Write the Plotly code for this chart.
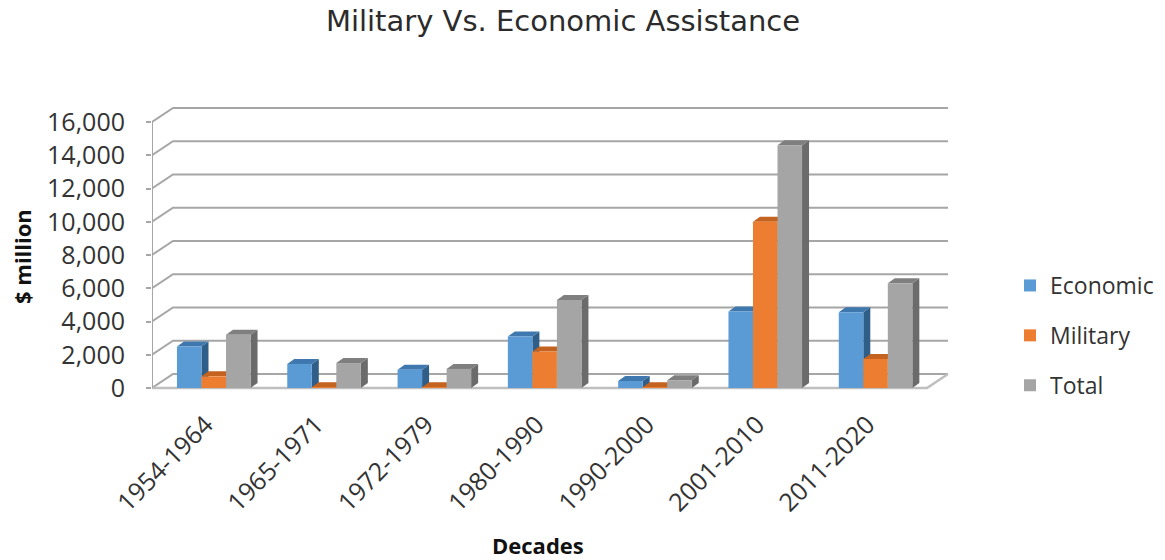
import plotly.graph_objects as go

# ---------------- data ----------------
decades = ["1954-1964", "1965-1971", "1972-1979", "1980-1990",
           "1990-2000", "2001-2010", "2011-2020"]
economic = [2500, 1450, 1100, 3100, 420, 4600, 4550]
military = [700, 50, 50, 2200, 50, 10000, 1750]
total = [3200, 1500, 1150, 5300, 470, 14600, 6300]
y_ticks = [0, 2000, 4000, 6000, 8000, 10000, 12000, 14000, 16000]

series = [
    ("Economic", economic, "#5B9BD5", "#3F78AE", "#2F5E88"),
    ("Military", military, "#ED7D31", "#C4621F", "#A3521A"),
    ("Total", total, "#A5A5A5", "#7F7F7F", "#6B6B6B"),
]

# ---------------- geometry (pixel-based layout) ----------------
W, H = 1165, 560
cat_px = 110.3          # px per category
cat0_px = 213.75        # px of first category centre
px_per_unit = 33.25 / 2000.0
y0_px = 388             # pixel of value 0
plot_l, plot_r, plot_t, plot_b = 152, 952, 100, 393

x_lo = (plot_l - cat0_px) / cat_px
x_hi = (plot_r - cat0_px) / cat_px
y_lo = -(plot_b - y0_px) / px_per_unit
y_hi = (y0_px - plot_t) / px_per_unit

bargap = 0.333
bw = (1 - bargap) / 3.0

# depth of back wall and of bars, in data units
wall_dx = 21 / cat_px
wall_dy = 14 / px_per_unit
bar_dx = 7 / cat_px
bar_dy = 5 / px_per_unit

front_right = (927 - cat0_px) / cat_px
back_right = front_right + wall_dx

grid_col = "#A6A6A6"
shapes = []
# back-wall gridlines (with the diagonal on the left side wall)
for v in y_ticks:
    shapes.append(dict(
        type="path", xref="x", yref="y", layer="below",
        path=f"M{x_lo},{v} L{x_lo + wall_dx},{v + wall_dy} L{back_right},{v + wall_dy}",
        line=dict(color=grid_col, width=2)))
# floor front edge + right edge
shapes.append(dict(
    type="path", xref="x", yref="y", layer="below",
    path=f"M{x_lo},0 L{front_right},0 L{back_right},{wall_dy}",
    line=dict(color="#BFBFBF", width=2.5)))
# front vertical axis line
shapes.append(dict(
    type="line", xref="x", yref="y", layer="below",
    x0=x_lo, x1=x_lo, y0=0, y1=y_ticks[-1],
    line=dict(color=grid_col, width=2)))

# 3-D side and top faces of each bar
for k, (name, vals, front, top, side) in enumerate(series):
    for i, v in enumerate(vals):
        c = i + (k - 1) * bw
        xl, xr = c - bw / 2, c + bw / 2
        shapes.append(dict(
            type="path", xref="x", yref="y", layer="below",
            path=f"M{xr},0 L{xr + bar_dx},{bar_dy} L{xr + bar_dx},{v + bar_dy} L{xr},{v} Z",
            fillcolor=side, line=dict(width=0)))
        shapes.append(dict(
            type="path", xref="x", yref="y", layer="below",
            path=f"M{xl},{v} L{xl + bar_dx},{v + bar_dy} L{xr + bar_dx},{v + bar_dy} L{xr},{v} Z",
            fillcolor=top, line=dict(width=0)))

fig = go.Figure()
for k, (name, vals, front, top, side) in enumerate(series):
    fig.add_trace(go.Bar(
        x=list(range(len(decades))), y=vals, name=name,
        marker=dict(color=front, line=dict(width=0)),
        legendgroup=name))

txt = "#333333"
fig.update_layout(
    width=W, height=H,
    margin=dict(l=plot_l, r=W - plot_r, t=plot_t, b=H - plot_b, autoexpand=False),
    paper_bgcolor="white", plot_bgcolor="rgba(0,0,0,0)",
    barmode="group", bargap=bargap, bargroupgap=0,
    font=dict(family="Open Sans", size=23, color=txt),
    title=dict(text="Military Vs. Economic Assistance",
               x=563 / W, xref="container", xanchor="center",
               y=1 - 21 / H, yref="container", yanchor="middle",
               font=dict(family="DejaVu Sans", size=29, color="#2b2b2b")),
    xaxis=dict(range=[x_lo, x_hi], tickvals=list(range(len(decades))),
               ticktext=decades, tickangle=-45, showgrid=False,
               zeroline=False, showline=False, ticks="",
               ticklabelstandoff=11, ticklabelshift=-8,
               tickfont=dict(family="Open Sans", size=25, color=txt)),
    yaxis=dict(range=[y_lo, y_hi], tickvals=y_ticks, tickformat=",",
               showgrid=False, zeroline=False, showline=False,
               ticks="outside", ticklen=5, tickcolor=grid_col, tickwidth=2,
               ticklabelstandoff=16,
               tickfont=dict(family="Open Sans", size=25, color=txt)),
    shapes=shapes,
    showlegend=True,
    legend=dict(x=(1010 - plot_l) / (plot_r - plot_l), xanchor="left",
                y=(plot_b - 264) / (plot_b - plot_t), yanchor="top",
                tracegroupgap=17, bgcolor="rgba(0,0,0,0)",
                font=dict(family="Open Sans", size=23, color=txt)),
    annotations=[
        dict(text="<b>$ million</b>", textangle=-90, showarrow=False,
             xref="paper", yref="paper",
             x=(22 - plot_l) / (plot_r - plot_l), xanchor="center",
             y=(plot_b - 257) / (plot_b - plot_t), yanchor="middle",
             font=dict(family="Open Sans", size=22, color="#111111")),
        dict(text="<b>Decades</b>", showarrow=False,
             xref="paper", yref="paper",
             x=(538 - plot_l) / (plot_r - plot_l), xanchor="center",
             y=(plot_b - 545) / (plot_b - plot_t), yanchor="middle",
             font=dict(family="Open Sans", size=22, color="#111111")),
    ],
)

fig.write_html("out.html")
